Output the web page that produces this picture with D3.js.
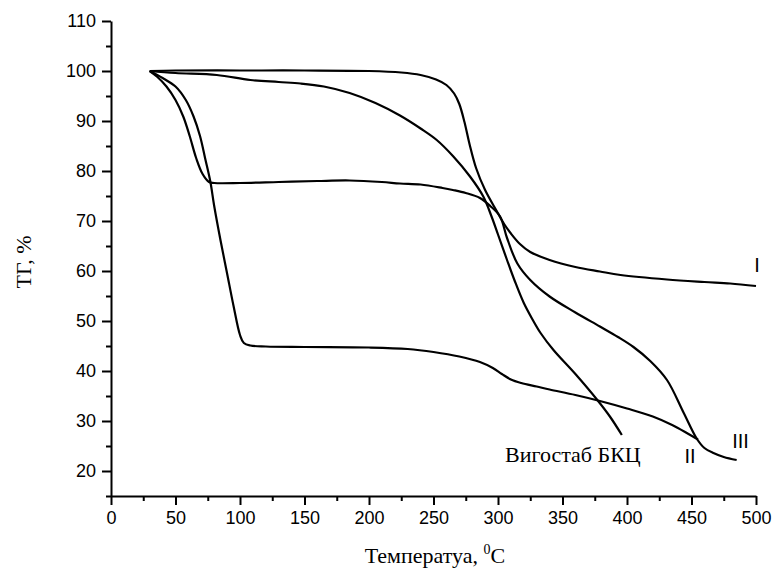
<!DOCTYPE html>
<html>
<head>
<meta charset="utf-8">
<script src="https://cdn.jsdelivr.net/npm/d3@7"></script>
<style>
  body { margin: 0; background: #fff; }
  svg { display: block; }
  .axis text { font-family: 'Liberation Sans', Arial, sans-serif; font-size: 18px; fill: #000; }
  .axis path, .axis line { stroke: #000; stroke-width: 2px; }
  .serif { font-family: 'Liberation Serif', 'Times New Roman', serif; font-size: 22px; fill: #000; }
  .roman { font-family: 'Liberation Sans', Arial, sans-serif; font-size: 20px; fill: #000; }
  .line { fill: none; stroke: #000; stroke-width: 2.2px; }
</style>
</head>
<body>
<div id="chart"></div>
<script>
// TG curves, [temperature °C, mass %]
const curveI = [[30, 100], [50, 100.1], [100, 100.1], [150, 100.1], [200, 100], [225, 99.7], [240, 99.2],
  [252, 98.3], [260, 97.2], [266, 95.5], [270, 93.4], [274, 89.8], [278, 85.3], [283, 80.6], [290, 76.2],
  [299, 72], [305, 69.3], [310, 67.5], [317, 65.4], [325, 63.8], [340, 62.2], [360, 60.8], [379, 59.9],
  [395, 59.2], [431, 58.3], [460, 57.8], [480, 57.5], [500, 57]]

const curveII = [[30, 100], [40, 98.6], [50, 96.9], [58, 94.2], [64, 90.9], [69, 87], [73, 82.5],
  [77, 77.9], [80, 73], [85, 66], [90, 59.5], [95, 53], [100, 47.2], [103, 45.6], [108, 45.1],
  [120, 44.9], [150, 44.8], [200, 44.7], [230, 44.4], [250, 43.8], [270, 42.9], [286, 41.8], [296, 40.6],
  [303, 39.4], [310, 38.3], [318, 37.6], [330, 36.9], [340, 36.3], [360, 35.2], [379, 34], [400, 32.5],
  [420, 30.9], [435, 29.2], [447, 27.5], [455, 26.3]]

const curveIII = [[30, 100], [36, 98.8], [43, 96.9], [50, 94.2], [56, 90.9], [61, 87], [66, 82.6], [71, 79.4],
  [76, 77.8], [80, 77.6], [100, 77.6], [130, 77.8], [160, 78], [185, 78.1], [210, 77.8], [224, 77.5],
  [240, 77.3], [257, 76.6], [265, 76.2], [275, 75.6], [286, 74.6], [294, 73], [301.6, 70.9], [307, 66.6],
  [315, 61.5], [325, 58.2], [340, 54.9], [360, 51.7], [379, 48.9], [393, 46.8], [405, 44.8], [418, 42],
  [431, 38.2], [444, 31.6], [454, 26.5], [460, 24.6], [467, 23.6], [475, 22.8], [485, 22.2]]

const curveVigostab = [[30, 100], [50, 99.6], [82, 99.2], [108, 98.2], [130, 97.8], [147, 97.5], [165, 96.9],
  [185, 95.6], [205, 93.6], [224, 91.1], [240, 88.5], [252.5, 86.2], [265.4, 82.9], [278.3, 78.9],
  [288.6, 74.9], [295, 70.9], [300, 67.3], [307, 62.2], [313, 58], [320, 53.6], [327, 50.2], [333, 47.6],
  [343, 44.2], [360, 39.4], [377, 34.2], [387, 30.8], [396, 27.2]]

const xTicks = [0, 50, 100, 150, 200, 250, 300, 350, 400, 450, 500]
const yTicks = [20, 30, 40, 50, 60, 70, 80, 90, 100, 110]

// curve names and where they are written, in data units
const labelNames = ['I', 'II', 'III', 'Вигостаб БКЦ']
const labelX = [500.8, 448.8, 488, 305.4]
const labelY = [59.8, 21.6, 24.6, 21.8]

const xTitle = 'Температуа, '
const yTitle = 'ТГ, %'

const W = 774
const H = 572
const margin = { top: 21, right: 18, bottom: 76, left: 111 }
const width = W - margin.left - margin.right
const height = H - margin.top - margin.bottom

const x = d3.scaleLinear().domain([0, 500]).range([0, width])
const y = d3.scaleLinear().domain([15, 110]).range([height, 0])

const svg = d3.select('#chart').append('svg')
  .attr('width', W)
  .attr('height', H)

const g = svg.append('g')
  .attr('transform', 'translate(' + margin.left + ',' + margin.top + ')')

// minor ticks first, then the labelled ones
g.append('g')
  .attr('class', 'axis')
  .attr('transform', 'translate(0,' + height + ')')
  .call(d3.axisBottom(x).tickValues(d3.range(25, 500, 50)).tickSize(5).tickFormat(''))
  .select('.domain').remove()

g.append('g')
  .attr('class', 'axis')
  .attr('transform', 'translate(0,' + height + ')')
  .call(d3.axisBottom(x).tickValues(xTicks).tickSize(9).tickSizeOuter(0).tickPadding(6))

g.append('g')
  .attr('class', 'axis')
  .call(d3.axisLeft(y).tickValues(d3.range(25, 110, 10).concat([15])).tickSize(5).tickFormat(''))
  .select('.domain').remove()

g.append('g')
  .attr('class', 'axis')
  .call(d3.axisLeft(y).tickValues(yTicks).tickSize(9).tickSizeOuter(0).tickPadding(6))

const line = d3.line()
  .x(d => x(d[0]))
  .y(d => y(d[1]))
  .curve(d3.curveCatmullRom.alpha(0.5))

g.selectAll('.line')
  .data([curveI, curveII, curveIII, curveVigostab])
  .enter().append('path')
  .attr('class', 'line')
  .attr('d', line)

g.selectAll('.curve-label')
  .data(labelNames)
  .enter().append('text')
  .attr('class', (d, i) => i === 3 ? 'serif' : 'roman')
  .attr('x', (d, i) => x(labelX[i]))
  .attr('y', (d, i) => y(labelY[i]))
  .attr('text-anchor', (d, i) => i === 3 ? 'start' : 'middle')
  .text(d => d)

// axis titles
const xt = svg.append('text')
  .attr('class', 'serif')
  .attr('x', 435)
  .attr('y', 563)
  .attr('text-anchor', 'middle')
xt.append('tspan').text(xTitle)
xt.append('tspan').attr('dy', -9).style('font-size', '14px').text('0')
xt.append('tspan').attr('dy', 9).text('C')

svg.append('text')
  .attr('class', 'serif')
  .attr('transform', 'translate(31,262) rotate(-90)')
  .attr('text-anchor', 'middle')
  .text(yTitle)
</script>
</body>
</html>
